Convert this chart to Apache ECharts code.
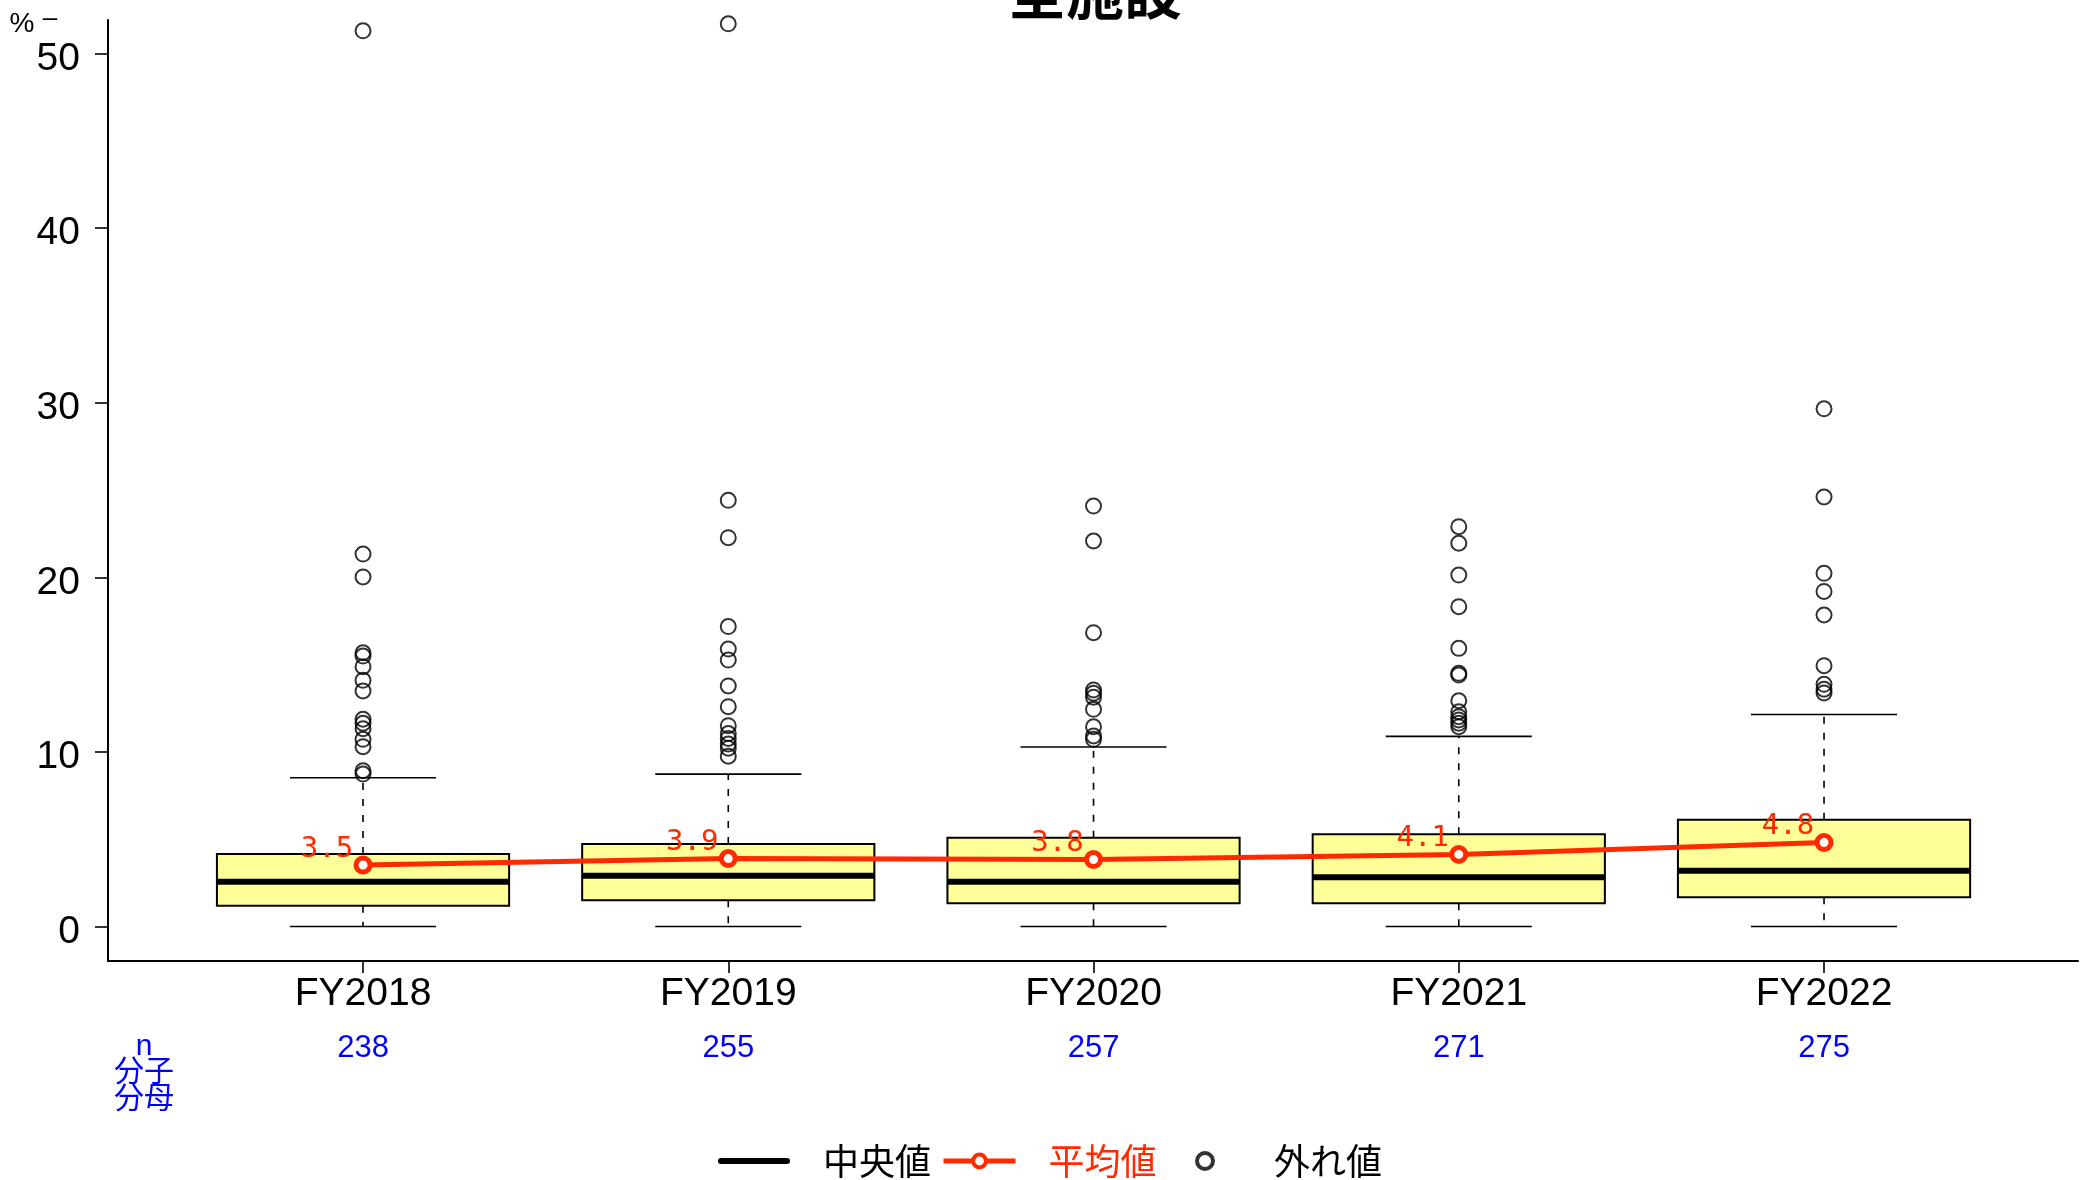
<!DOCTYPE html>
<html><head><meta charset="utf-8">
<script src="https://cdn.jsdelivr.net/npm/echarts@6/dist/echarts.min.js"></script>
<style>html,body{margin:0;padding:0;background:#fff}#c{width:2086px;height:1180px}</style>
</head><body><div id="c"></div>
<script>
// ---- data ----
const categories = ['FY2018', 'FY2019', 'FY2020', 'FY2021', 'FY2022'];
const nCounts = [238, 255, 257, 271, 275];
const yTicks = [0, 10, 20, 30, 40, 50];
const whiskerLow = [0, 0, 0, 0, 0];
const q1 = [1.19, 1.51, 1.33, 1.33, 1.68];
const median = [2.57, 2.91, 2.57, 2.82, 3.19];
const q3 = [4.15, 4.73, 5.09, 5.28, 6.11];
const whiskerHigh = [8.52, 8.73, 10.28, 10.89, 12.14];
const means = [3.52, 3.89, 3.84, 4.13, 4.81];
const outliers2018 = [51.3, 21.33, 20.02, 15.68, 15.49, 14.88, 14.1, 13.49, 11.87, 11.64, 11.33, 10.72, 10.3, 8.92, 8.73];
const outliers2019 = [51.7, 24.41, 22.27, 17.18, 15.89, 15.26, 13.78, 12.59, 11.5, 11.05, 10.77, 10.45, 10.21, 9.75];
const outliers2020 = [24.08, 22.08, 16.83, 13.55, 13.36, 13.13, 12.44, 11.44, 10.91, 10.72];
const outliers2021 = [22.9, 21.95, 20.13, 18.32, 15.93, 14.5, 14.4, 12.93, 12.3, 12.02, 11.83, 11.64, 11.44];
const outliers2022 = [29.65, 24.6, 20.23, 19.19, 17.84, 14.94, 13.87, 13.59, 13.38];

// ---- build ----
const NUM_FONT = "'Liberation Sans Narrow','Arial Narrow','Liberation Sans',Arial,sans-serif";
const CJK_FONT = "'Noto Sans CJK JP','Noto Sans CJK SC',sans-serif";
const RED = '#ff2a00';
const BLUE = '#0000ff';
const Y_MIN = -1.976, Y_MAX = 51.92;

const boxData = categories.map((c, i) => [i, whiskerLow[i], q1[i], median[i], q3[i], whiskerHigh[i]]);
const outlierLists = [outliers2018, outliers2019, outliers2020, outliers2021, outliers2022];
const outlierData = [];
outlierLists.forEach((arr, i) => arr.forEach(v => outlierData.push([i, v])));

function renderBox(params, api) {
  const i = api.value(0);
  const bw = api.size([1, 0])[0];
  const x = api.coord([i, 0])[0];
  const yLo = api.coord([i, api.value(1)])[1];
  const yQ1 = api.coord([i, api.value(2)])[1];
  const yMed = api.coord([i, api.value(3)])[1];
  const yQ3 = api.coord([i, api.value(4)])[1];
  const yHi = api.coord([i, api.value(5)])[1];
  const half = bw * 0.4, cap = bw * 0.2;
  const dash = { stroke: '#000', lineWidth: 1.6, lineDash: [7, 9] };
  const solid = { stroke: '#000', lineWidth: 1.6 };
  return {
    type: 'group',
    children: [
      { type: 'line', shape: { x1: x, y1: yQ1, x2: x, y2: yLo }, style: dash },
      { type: 'line', shape: { x1: x, y1: yQ3, x2: x, y2: yHi }, style: dash },
      { type: 'line', shape: { x1: x - cap, y1: yLo, x2: x + cap, y2: yLo }, style: solid },
      { type: 'line', shape: { x1: x - cap, y1: yHi, x2: x + cap, y2: yHi }, style: solid },
      { type: 'rect', shape: { x: x - half, y: yQ3, width: 2 * half, height: yQ1 - yQ3 },
        style: { fill: '#ffff99', stroke: '#000', lineWidth: 2 } },
      { type: 'line', shape: { x1: x - half, y1: yMed, x2: x + half, y2: yMed },
        style: { stroke: '#000', lineWidth: 6 } }
    ]
  };
}

const legendText = { fontFamily: CJK_FONT, fontSize: 36, padding: [0, 0, 0, 28] };
const legendBase = { top: 1138, itemWidth: 72, itemHeight: 16, selectedMode: false };

const chart = echarts.init(document.getElementById('c'), null, { renderer: 'canvas' });
chart.setOption({
  backgroundColor: '#fff',
  animation: false,
  grid: [
    { left: 108, right: 8, top: 20, bottom: 219 },
    { left: 180.4, right: 79.35, top: 20, bottom: 219 }
  ],
  xAxis: [
    { type: 'value', gridIndex: 0, min: 0, max: 1,
      axisLine: { show: true, onZero: false, lineStyle: { color: '#000', width: 2 } },
      axisTick: { show: false }, axisLabel: { show: false }, splitLine: { show: false } },
    { type: 'category', gridIndex: 1, data: categories, boundaryGap: true,
      axisLine: { show: false, onZero: false },
      axisTick: { show: true, alignWithLabel: true, interval: 0, length: 12, lineStyle: { color: '#000', width: 1.6 } },
      axisLabel: { interval: 0, color: '#000', fontSize: 39, fontFamily: NUM_FONT, margin: 14 },
      splitLine: { show: false } },
    { type: 'category', gridIndex: 1, data: nCounts.map(String), boundaryGap: true, position: 'bottom',
      axisLine: { show: false, onZero: false }, axisTick: { show: false },
      axisLabel: { interval: 0, color: BLUE, fontSize: 31, fontFamily: NUM_FONT, margin: 72 },
      splitLine: { show: false } }
  ],
  yAxis: [
    { type: 'value', gridIndex: 0, min: Y_MIN, max: Y_MAX,
      axisLine: { show: true, onZero: false, lineStyle: { color: '#000', width: 2 } },
      axisTick: { show: true, customValues: yTicks, length: 13, lineStyle: { color: '#000', width: 1.6 } },
      axisLabel: { show: true, customValues: yTicks, margin: 28,
        formatter: v => '{a|' + v + '}',
        rich: { a: { color: '#000', fontSize: 39, fontFamily: NUM_FONT, padding: [11, 0, 0, 0] } } },
      splitLine: { show: false } },
    { type: 'value', gridIndex: 1, min: Y_MIN, max: Y_MAX, show: false, splitLine: { show: false } }
  ],
  legend: [
    Object.assign({ left: 713, textStyle: Object.assign({ color: '#000' }, legendText),
      data: [{ name: '中央値', icon: 'path://M3,0H69A3,3 0 0 1 69,6H3A3,3 0 0 1 3,0Z', itemStyle: { color: '#000' } }] }, legendBase),
    Object.assign({ left: 936, textStyle: Object.assign({ color: RED }, legendText),
      data: [{ name: '平均値', lineStyle: { width: 5, color: RED }, itemStyle: { color: '#fff', borderColor: RED, borderWidth: 4 } }] }, legendBase),
    Object.assign({ left: 1190, textStyle: Object.assign({ color: '#000' }, legendText),
      data: [{ name: '外れ値', itemStyle: { borderWidth: 4, borderColor: '#000', color: 'transparent' } }] }, legendBase)
  ],
  graphic: [
    { type: 'text', x: 1095, y: -8, style: { text: '全施設', fontSize: 58, fontWeight: 'bold', fontFamily: CJK_FONT, fill: '#000', textAlign: 'center', textVerticalAlign: 'middle' } },
    { type: 'text', x: 22, y: 24, style: { text: '%', fontSize: 28, fontFamily: NUM_FONT, fill: '#000', textAlign: 'center', textVerticalAlign: 'middle' } },
    { type: 'text', x: 50, y: 19, style: { text: '–', fontSize: 26, fontFamily: NUM_FONT, fill: '#000', textAlign: 'center', textVerticalAlign: 'middle' } },
    { type: 'text', x: 144, y: 1047, style: { text: 'n', fontSize: 30, fontFamily: NUM_FONT, fill: BLUE, textAlign: 'center', textVerticalAlign: 'middle' } },
    { type: 'text', x: 144, y: 1070, style: { text: '分子', fontSize: 30, fontFamily: CJK_FONT, fill: BLUE, textAlign: 'center', textVerticalAlign: 'middle' } },
    { type: 'text', x: 144, y: 1097, style: { text: '分母', fontSize: 30, fontFamily: CJK_FONT, fill: BLUE, textAlign: 'center', textVerticalAlign: 'middle' } }
  ],
  series: [
    { name: 'box', type: 'custom', xAxisIndex: 1, yAxisIndex: 1, renderItem: renderBox,
      encode: { x: 0, y: [1, 2, 3, 4, 5] }, data: boxData, z: 2 },
    { name: '中央値', type: 'line', xAxisIndex: 1, yAxisIndex: 1, data: [], symbol: 'none',
      lineStyle: { color: '#000', width: 6, cap: 'round' }, itemStyle: { color: '#000' } },
    { name: '平均値', type: 'line', xAxisIndex: 1, yAxisIndex: 1, data: means, z: 4,
      symbol: 'circle', symbolSize: 14,
      lineStyle: { color: RED, width: 5 },
      itemStyle: { color: '#fff', borderColor: RED, borderWidth: 5 },
      label: { show: true, position: 'top', distance: 0, offset: [-36, 8], color: RED,
        fontSize: 29, fontFamily: "'DejaVu Sans Mono',monospace",
        formatter: p => p.value.toFixed(1) } },
    { name: '外れ値', type: 'scatter', xAxisIndex: 1, yAxisIndex: 1, data: outlierData, z: 5,
      symbol: 'circle', symbolSize: 15, clip: false,
      itemStyle: { color: 'transparent', borderColor: '#000', borderWidth: 2 } }
  ]
});
</script></body></html>
